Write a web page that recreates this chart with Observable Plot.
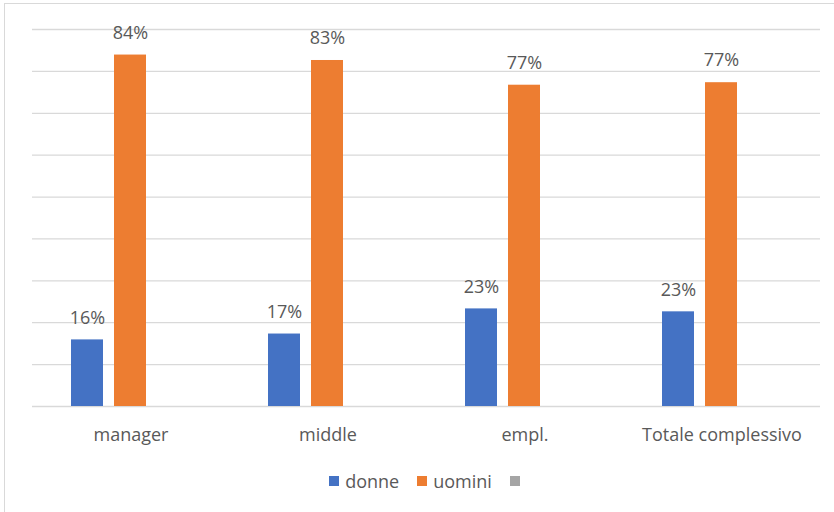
<!DOCTYPE html>
<html>
<head>
<meta charset="utf-8">
<script src="https://cdn.jsdelivr.net/npm/d3@7"></script>
<script src="https://cdn.jsdelivr.net/npm/@observablehq/plot@0.6"></script>
<style>
  body { margin: 0; background: #fff; font-family: "Open Sans", sans-serif; }
  #wrap { position: relative; width: 834px; height: 512px; overflow: hidden; }
  #frame { position: absolute; left: 4px; top: 3px; width: 900px; height: 600px; border: 1.5px solid #d9d9d9; box-sizing: border-box; }
  #chart { position: absolute; left: 0; top: 0; }
  #legend { position: absolute; top: 469px; left: 0; width: 834px; display: flex; justify-content: center; gap: 18px; font-size: 18px; color: #595959; padding-left: 21px; box-sizing: border-box; }
  .item { display: flex; align-items: center; }
  .sw { width: 10px; height: 10px; margin-right: 6px; }
</style>
</head>
<body>
<div id="wrap">
  <div id="frame"></div>
  <div id="chart"></div>
  <div id="legend"></div>
</div>
<script>
const categories = ["manager", "middle", "empl.", "Totale complessivo"];
const series = ["donne", "uomini", ""];
const donne = [15.9, 17.3, 23.3, 22.6];
const uomini = [83.9, 82.6, 76.7, 77.3];
const colors = ["#4472C4", "#ED7D31", "#A5A5A5"];
const gridTicks = [0, 10, 20, 30, 40, 50, 60, 70, 80, 90];

const data = [];
categories.forEach((c, i) => {
  data.push({cat: c, s: "donne", v: donne[i]});
  data.push({cat: c, s: "uomini", v: uomini[i]});
});

const chart = Plot.plot({
  width: 834,
  height: 460,
  marginLeft: 31,
  marginRight: 14,
  marginTop: 29,
  marginBottom: 54,
  style: {fontFamily: "Open Sans", fontSize: "18px", color: "#595959", background: "transparent"},
  fx: {domain: categories, padding: 0, label: null, tickSize: 0, tickPadding: 22, axis: "bottom"},
  x: {domain: series, paddingInner: 0.25, paddingOuter: 0.866, axis: null},
  y: {domain: [0, 90], axis: null},
  color: {domain: series, range: colors},
  marks: [
    Plot.ruleY(gridTicks, {stroke: "#d9d9d9", strokeWidth: 1.3}),
    Plot.barY(data, {fx: "cat", x: "s", y: "v", fill: "s"}),
    Plot.text(data, {fx: "cat", x: "s", y: "v", text: d => Math.round(d.v) + "%", dy: -22, fill: "#595959", fontSize: 18})
  ]
});
document.getElementById("chart").appendChild(chart);

const legend = document.getElementById("legend");
series.forEach((s, i) => {
  const it = document.createElement("div");
  it.className = "item";
  const sw = document.createElement("span");
  sw.className = "sw";
  sw.style.background = colors[i];
  it.appendChild(sw);
  const t = document.createElement("span");
  t.textContent = s;
  it.appendChild(t);
  legend.appendChild(it);
});
</script>
</body>
</html>
